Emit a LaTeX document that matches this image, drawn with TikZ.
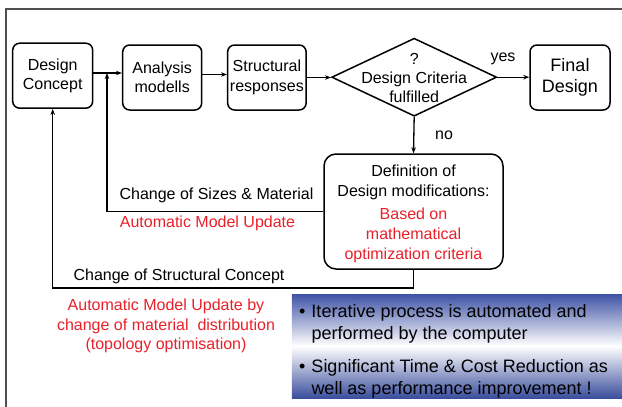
\documentclass[tikz,border=0pt]{standalone}
\usepackage{fontspec}
\setmainfont{Liberation Sans}
\usetikzlibrary{shapes.geometric,arrows.meta}
\definecolor{tred}{RGB}{232,32,42}
\definecolor{nblue}{RGB}{62,82,165}
\definecolor{frame}{RGB}{80,80,80}
\begin{document}
\begin{tikzpicture}[x=1pt,y=-1pt,
  txt/.style={font=\fontsize{16}{19.5}\selectfont, align=center, inner sep=0pt},
  box/.style={draw, line width=1.5pt, rounded corners=7pt, txt},
  arr/.style={line width=1.3pt, -{Stealth[length=6pt,width=4.5pt]}},
  ln/.style={line width=1.3pt}]
\path[use as bounding box] (0,0) rectangle (622,407);
\draw[frame, line width=1.3pt] (622,9) -- (6,9) -- (6,407);

\node[box, minimum width=80pt, minimum height=65pt] (dc) at (52.7,75.7) {Design\\Concept};
\node[box, minimum width=79pt, minimum height=65pt] (an) at (162.2,77.5) {Analysis\\modells};
\node[box, minimum width=78.5pt, minimum height=65pt] (sr) at (266.9,77.5) {Structural\\responses};
\node[draw, line width=1.5pt, shape=diamond, inner sep=0pt, minimum width=165pt, minimum height=78pt] (dia) at (414.2,77.2) {};
\node[txt, font=\fontsize{16}{19}\selectfont] (diat) at (414.2,77.5) {?\\Design Criteria\\fulfilled};
\node[box, minimum width=80pt, minimum height=65pt, font=\fontsize{18}{21}\selectfont] (fd) at (570,77.5) {Final\\Design};

\node[box, minimum width=179pt, minimum height=115pt, rounded corners=12pt] (dm) at (413.5,211.5) {};
\node[txt, anchor=north, font=\fontsize{16}{20}\selectfont] (dmt) at (413.5,165) {Definition of\\Design modifications:\\[3pt]\textcolor{tred}{Based on}\\\textcolor{tred}{mathematical}\\\textcolor{tred}{optimization criteria}};

\coordinate (j1) at (107,73);
\coordinate (k) at (0,288);

\draw[arr] (dc.east|-j1) -- (an.west|-j1);
\draw[arr] (an.east|-0,74.5) -- (sr.west|-0,74.5);
\draw[arr] (sr.east|-0,77.5) -- (dia.west|-0,77.5);
\draw[arr] (dia.east) -- (dia.east-|fd.west);
\draw[arr] (dia.south) -- (dm.north);
\draw[arr] (dm.west) -| (j1);
\draw[arr] (dm.south) -- (dm.south|-k) -| (dc.south);

\node[txt] (yes) at (503,59) {yes};
\node[txt] (no) at (444,135) {no};
\node[txt] (l1) at (216.5,195) {Change of Sizes \& Material};
\node[txt, text=tred] (l2) at (207.5,223) {Automatic Model Update};
\node[txt] (l3) at (179,276) {Change of Structural Concept};
\node[txt, text=tred, font=\fontsize{16}{19.5}\selectfont] (l4) at (166,326) {Automatic Model Update by\\change of material\ \ distribution\\(topology optimisation)};

\node[inner sep=0pt, minimum width=330.3pt, minimum height=104pt, top color=nblue, bottom color=nblue!95!black, middle color=white] (note) at (456.9,346) {};
\node[inner sep=0pt, anchor=west, font=\fontsize{18}{22}\selectfont] (notet) at (299,351.5)
 {\begin{tabular}{@{}l@{\hspace{6pt}}l@{}}•&Iterative process is automated and\\ &performed by the computer\\[11pt]•&Significant Time \& Cost Reduction as\\ &well as performance improvement !\end{tabular}};
\end{tikzpicture}
\end{document}
